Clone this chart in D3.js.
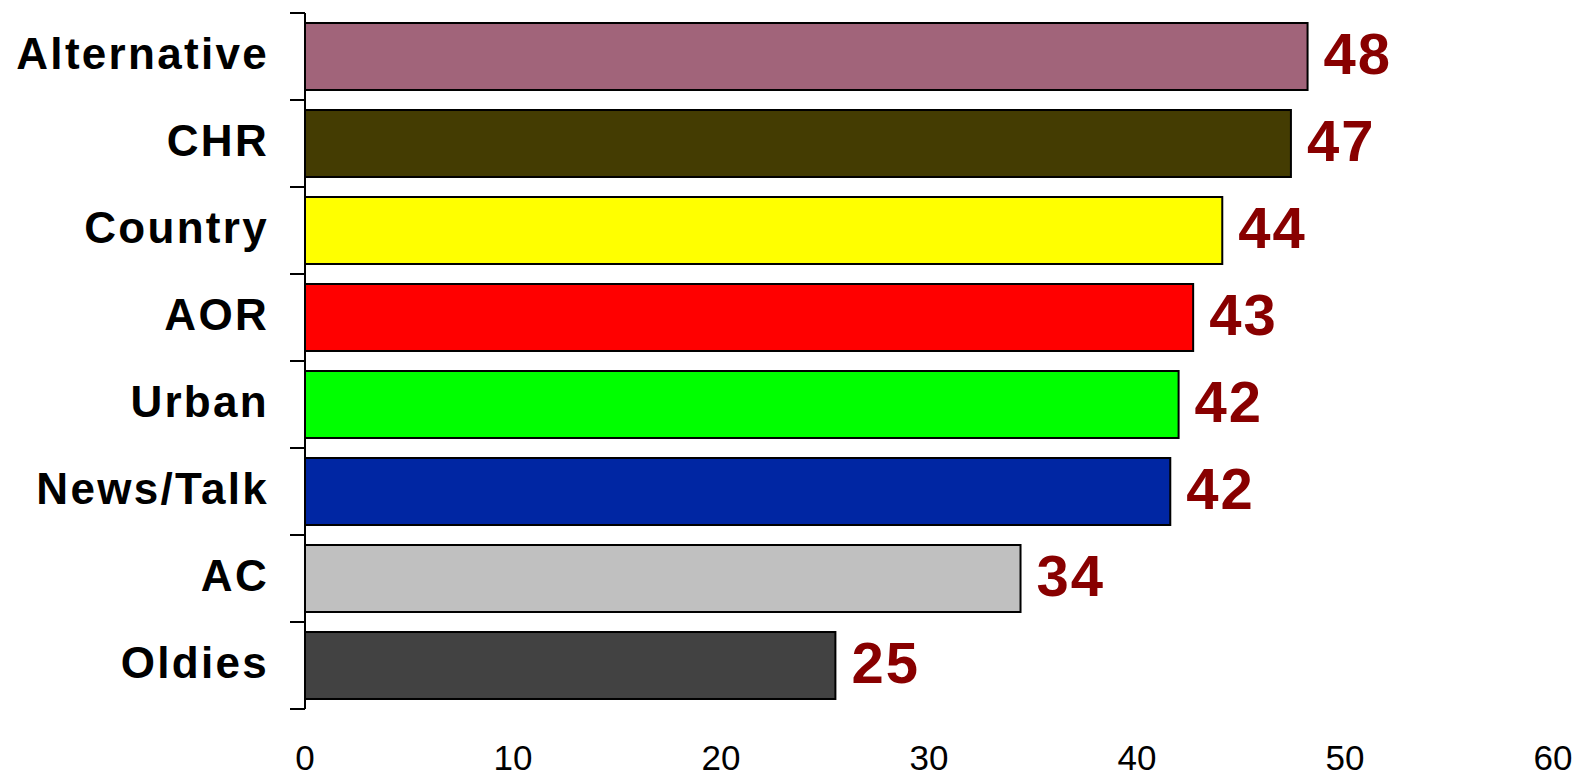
<!DOCTYPE html>
<html>
<head>
<meta charset="utf-8">
<script src="https://cdn.jsdelivr.net/npm/d3@7/dist/d3.min.js"></script>
<style>
  body { margin: 0; background: #fff; }
  svg { display: block; font-family: "Liberation Sans", Arial, sans-serif; }
  .cat { font-size: 44px; font-weight: bold; letter-spacing: 2.3px; fill: #000; }
  .val { font-size: 58px; font-weight: bold; letter-spacing: 2px; fill: #880000; }
  .tick-label { font-size: 35px; fill: #000; }
</style>
</head>
<body>
<svg id="chart" width="1583" height="778"></svg>
<script>
const formats = ["Alternative", "CHR", "Country", "AOR", "Urban", "News/Talk", "AC", "Oldies"];
const scores = [48.2, 47.4, 44.1, 42.7, 42.0, 41.6, 34.4, 25.5];
const scoreLabels = ["48", "47", "44", "43", "42", "42", "34", "25"];
const barColors = ["#A1647A", "#443C02", "#FFFF00", "#FF0000", "#00FF00", "#0026A3", "#C0C0C0", "#424242"];
const xTicks = [0, 10, 20, 30, 40, 50, 60];

const svg = d3.select("#chart");
const plotLeft = 305, plotRight = 1553, plotTop = 13, plotBottom = 709;

const x = d3.scaleLinear().domain([0, 60]).range([plotLeft, plotRight]);
const y = d3.scaleBand()
    .domain(formats)
    .range([plotTop, plotBottom])
    .paddingInner(0.23)
    .paddingOuter(0.115);

const step = y.step();
const edges = d3.range(formats.length + 1).map(i => plotTop + i * step);

// y axis line and ticks at the category boundaries
svg.append("line")
    .attr("x1", plotLeft).attr("x2", plotLeft)
    .attr("y1", plotTop).attr("y2", plotBottom)
    .attr("stroke", "#000").attr("stroke-width", 2);

svg.selectAll(".ytick")
    .data(edges)
    .enter().append("line")
    .attr("class", "ytick")
    .attr("x1", plotLeft - 15).attr("x2", plotLeft)
    .attr("y1", d => d).attr("y2", d => d)
    .attr("stroke", "#000").attr("stroke-width", 2);

const rows = formats.map((f, i) => ({ name: f, value: scores[i], label: scoreLabels[i], color: barColors[i] }));

svg.selectAll(".bar")
    .data(rows)
    .enter().append("rect")
    .attr("class", "bar")
    .attr("x", x(0))
    .attr("y", d => y(d.name))
    .attr("width", d => x(d.value) - x(0))
    .attr("height", y.bandwidth())
    .attr("fill", d => d.color)
    .attr("stroke", "#000")
    .attr("stroke-width", 2);

svg.selectAll(".cat")
    .data(rows)
    .enter().append("text")
    .attr("class", "cat")
    .attr("x", plotLeft - 36)
    .attr("y", d => y(d.name) + y.bandwidth() / 2 - 3)
    .attr("dy", "0.36em")
    .attr("text-anchor", "end")
    .text(d => d.name);

svg.selectAll(".val")
    .data(rows)
    .enter().append("text")
    .attr("class", "val")
    .attr("x", d => x(d.value) + 16)
    .attr("y", d => y(d.name) + y.bandwidth() / 2 - 3)
    .attr("dy", "0.36em")
    .text(d => d.label);

svg.selectAll(".tick-label")
    .data(xTicks)
    .enter().append("text")
    .attr("class", "tick-label")
    .attr("x", d => x(d))
    .attr("y", 770)
    .attr("text-anchor", "middle")
    .text(d => d);
</script>
</body>
</html>
